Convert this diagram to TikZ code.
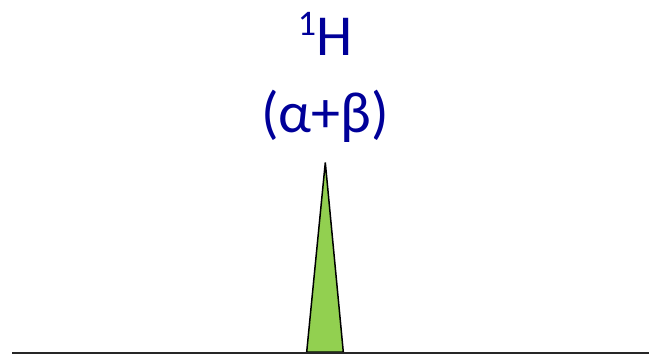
\documentclass[tikz,border=0pt]{standalone}
\usepackage{fontspec}
\setmainfont{Carlito}
\usepackage{tikz}
\usetikzlibrary{positioning}
\definecolor{labelblue}{RGB}{0,0,153}
\definecolor{peakgreen}{RGB}{146,208,80}

\begin{document}
\begin{tikzpicture}[
x=1pt,
y=1pt,
label/.style={
text=labelblue,
font=\fontsize{58}{70}\selectfont,
inner sep=0pt
},
peak/.style={
draw=black,
fill=peakgreen,
line width=1.5pt,
line join=miter
},
axis/.style={
draw=black!85,
line width=2pt
}
]
\useasboundingbox (0,0) rectangle (649,360);

%%%%%%%%%%%%%%%%%%%%%%%%%%%%%%%%%%%%%%%%%%%%%
% Labels
%%%%%%%%%%%%%%%%%%%%%%%%%%%%%%%%%%%%%%%%%%%%%

\node[label, anchor=base] (nucleus) at (325,305)
{\raisebox{20pt}{\fontsize{36}{36}\selectfont 1}H};

\node[label, anchor=base] (spin) at (325,228)
{(α+β)};

%%%%%%%%%%%%%%%%%%%%%%%%%%%%%%%%%%%%%%%%%%%%%
% Spectrum
%%%%%%%%%%%%%%%%%%%%%%%%%%%%%%%%%%%%%%%%%%%%%

\coordinate (left) at (12,7);
\coordinate (right) at (649,7);
\coordinate (top) at (325.3,197.5);

\draw[peak] (306.7,8)--(top)--(343.3,8)--cycle;

\draw[axis] (left)--(right);

\end{tikzpicture}
\end{document}
